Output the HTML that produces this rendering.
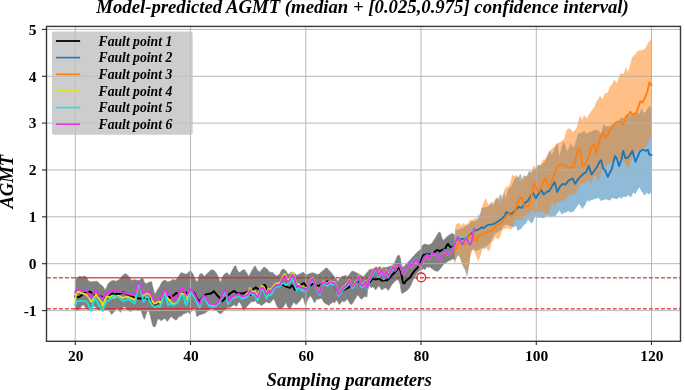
<!DOCTYPE html>
<html><head><meta charset="utf-8"><title>AGMT</title>
<style>html,body{margin:0;padding:0;background:#fff;width:685px;height:390px;overflow:hidden}svg{display:block;will-change:transform}</style>
</head><body>
<svg width="685" height="390" viewBox="0 0 685 390">
<defs><clipPath id="ax"><rect x="46.5" y="26.4" width="634.0" height="314.9"/></clipPath></defs>
<g clip-path="url(#ax)">
<polygon points="75.3,279.8 77.5,278.4 79.6,276.0 81.7,277.0 84.5,276.0 86.5,277.0 88.6,281.2 91.4,281.9 94.2,281.6 97.0,281.2 99.7,284.0 102.5,286.0 105.3,290.2 108.0,284.0 110.8,281.2 113.6,280.5 116.3,281.2 119.1,279.8 121.9,276.3 125.3,273.5 127.4,275.0 130.2,277.7 131.1,280.5 134.2,279.7 136.5,280.2 138.0,280.6 139.7,280.2 141.5,278.5 142.4,278.0 143.2,279.3 144.5,282.4 145.8,283.7 147.2,283.3 148.5,282.4 150.2,282.0 151.5,281.5 152.4,285.4 153.7,290.7 154.6,294.2 155.4,293.7 156.7,291.5 158.0,288.9 159.8,286.3 161.5,282.8 162.8,281.1 164.2,280.6 165.9,280.6 167.6,282.0 169.4,281.5 171.1,281.1 172.6,279.2 174.9,280.5 177.2,278.2 179.5,275.0 181.1,272.5 183.4,273.5 185.7,274.3 187.3,273.5 190.4,270.5 192.7,273.5 195.0,278.9 197.3,282.8 199.6,274.3 201.9,273.5 204.2,276.6 206.5,274.3 209.6,271.2 211.9,269.7 214.2,270.5 216.5,273.5 218.8,278.2 220.4,282.8 222.7,276.6 225.0,273.5 227.3,272.8 229.6,275.8 231.9,271.2 234.2,266.6 235.8,265.8 237.3,270.5 239.6,272.8 241.9,270.5 244.3,269.6 246.6,272.7 248.9,276.5 251.2,271.9 253.5,268.1 255.1,265.8 257.4,270.4 259.7,271.9 262.0,269.6 264.0,266.9 265.7,268.0 267.5,269.5 269.2,271.7 271.0,272.5 272.7,272.5 274.5,274.3 276.2,276.0 277.5,275.6 278.8,274.7 280.1,273.4 281.4,270.4 282.7,269.1 284.5,269.5 285.8,270.8 287.1,273.0 288.8,274.3 290.2,273.0 291.9,272.1 293.6,272.5 295.0,273.8 296.7,275.2 298.4,274.7 300.2,273.8 302.4,272.5 303.5,272.2 305.2,274.5 307.8,274.5 310.5,273.2 313.1,272.8 315.3,273.7 317.4,274.5 319.2,274.1 321.4,271.9 323.5,270.2 325.3,268.4 327.0,268.0 328.3,269.7 330.1,271.5 331.8,273.2 333.6,275.8 335.3,278.0 336.6,278.9 337.7,282.4 339.2,279.3 340.8,277.2 342.3,276.2 343.8,276.2 345.4,275.2 346.9,276.7 348.5,275.7 350.0,273.6 351.5,271.6 353.1,271.1 354.6,272.1 356.2,272.6 357.7,273.6 359.2,274.2 360.8,275.2 362.3,276.2 363.8,276.7 365.4,274.2 366.9,272.6 368.5,271.0 369.5,269.4 371.1,269.4 372.6,268.8 374.2,268.3 375.7,267.8 377.2,268.3 378.8,267.3 379.8,266.3 380.8,267.8 382.4,268.3 383.9,267.3 385.4,267.8 387.0,267.3 388.5,266.8 390.1,266.3 391.6,265.8 393.1,264.7 394.7,262.7 396.2,259.1 397.2,256.5 398.3,255.0 399.3,255.5 400.3,258.1 401.3,264.2 402.4,267.3 403.9,266.8 405.0,265.6 406.5,263.6 408.1,262.1 409.6,260.5 411.2,259.0 412.7,256.9 414.2,255.4 415.8,253.8 417.3,252.3 418.8,250.8 420.4,249.7 421.4,248.2 422.4,245.6 423.5,244.6 425.0,244.1 426.5,244.6 428.1,245.1 429.6,244.6 431.2,244.1 433.3,241.2 435.5,237.7 437.6,234.2 439.0,232.0 440.4,232.8 441.8,237.7 443.2,240.5 445.3,238.4 447.4,236.3 449.6,234.9 451.7,233.5 453.8,234.2 454.5,234.9 454.5,259.5 452.4,258.8 450.3,260.3 448.1,261.0 446.5,262.4 445.0,263.0 443.5,264.5 441.9,266.5 440.4,268.5 438.8,270.5 437.3,271.2 435.8,271.0 434.2,270.2 432.7,269.0 431.2,268.0 429.6,266.7 428.1,267.7 427.0,266.2 426.0,267.7 425.0,269.7 423.5,268.7 422.4,269.2 421.4,269.7 419.4,270.8 417.3,272.8 415.3,275.9 413.0,280.0 410.5,286.0 408.5,289.0 407.0,290.4 405.5,291.4 403.9,292.4 402.4,293.5 401.3,291.9 400.3,284.7 398.8,280.6 397.2,279.6 395.7,280.6 394.2,282.2 392.6,283.7 391.1,285.8 389.5,288.8 388.0,290.4 386.5,288.3 384.9,287.8 383.4,288.8 381.8,289.9 380.3,287.8 378.8,285.8 377.2,287.8 375.7,289.9 374.2,287.8 372.6,286.8 371.1,287.8 369.5,285.8 368.0,284.7 366.9,297.2 365.4,296.2 363.8,296.7 362.3,298.8 360.8,298.8 359.2,296.7 357.7,294.7 356.2,297.2 354.6,299.8 353.1,302.4 351.5,304.4 350.0,303.4 348.5,300.8 346.9,298.8 345.4,301.0 343.8,301.8 342.3,300.8 340.8,302.9 339.2,304.4 337.7,301.8 336.2,299.8 334.6,302.9 333.1,301.8 332.0,302.7 330.5,303.8 328.9,305.4 327.4,304.6 325.8,303.8 324.3,302.7 322.8,300.4 321.6,298.1 320.1,298.5 318.5,299.2 317.0,298.8 315.8,300.8 314.7,302.7 313.5,300.8 312.0,297.7 310.8,296.2 309.7,296.5 308.2,298.5 306.6,302.3 305.7,305.8 304.7,303.1 303.5,298.5 302.4,297.3 300.8,299.6 299.3,301.5 297.8,303.1 296.2,304.6 295.1,303.8 294.0,302.0 292.8,303.5 291.7,305.8 290.5,308.1 289.4,308.5 287.8,307.3 286.7,304.6 285.5,302.3 284.4,305.0 283.2,307.3 281.7,308.1 280.2,308.5 278.6,308.1 277.1,306.5 275.9,303.5 274.8,300.8 273.6,298.8 272.5,300.0 270.9,301.9 269.4,303.1 267.8,302.7 266.3,301.5 264.8,303.1 263.2,304.2 261.7,305.4 260.2,304.6 258.6,303.5 257.1,303.5 255.5,300.0 254.0,301.9 252.5,301.2 250.9,302.3 249.4,303.8 247.8,305.4 246.3,307.3 244.8,308.8 243.6,310.0 242.8,308.5 241.7,305.8 240.5,303.5 239.4,301.9 238.2,302.7 237.1,305.4 235.9,306.5 234.4,304.6 232.8,305.4 231.3,306.5 229.8,307.7 228.2,306.9 226.3,308.5 224.4,310.0 222.5,312.3 220.5,313.8 218.6,312.7 216.3,310.4 214.5,309.5 212.9,309.0 211.4,308.4 209.8,309.2 208.3,310.3 206.8,311.8 205.2,313.0 203.7,313.4 202.2,314.2 200.6,314.5 199.1,314.9 197.9,316.1 196.8,316.5 195.6,310.3 194.5,307.6 193.3,309.2 191.8,310.7 190.6,312.2 189.5,313.8 188.3,311.8 186.8,312.6 185.2,313.4 183.7,313.8 182.2,315.3 180.6,316.5 179.1,316.1 177.5,318.8 176.2,319.9 174.9,319.6 173.4,318.5 172.2,316.9 171.1,316.5 169.5,318.5 168.4,320.0 167.2,321.5 166.1,320.0 164.9,318.1 163.4,319.2 162.2,320.0 161.1,320.8 159.9,319.6 158.4,318.8 157.2,320.0 156.5,323.1 155.3,326.5 153.8,326.9 152.6,325.4 151.5,320.8 150.3,315.4 149.2,311.5 148.0,310.8 146.8,311.5 145.7,315.4 144.5,319.2 143.8,318.5 142.2,313.8 141.1,310.4 138.0,310.0 135.0,309.6 132.8,310.0 130.5,311.5 127.4,310.0 125.5,307.5 123.9,306.2 122.0,309.6 120.5,312.3 118.2,309.5 116.6,307.3 115.0,310.8 113.5,312.3 111.7,314.6 110.0,312.0 108.5,310.0 106.3,309.5 104.0,309.8 102.0,310.0 100.0,309.5 98.0,309.5 96.5,308.5 94.5,306.0 92.5,306.8 90.5,308.5 89.0,309.5 87.0,309.0 85.5,307.5 83.5,304.8 82.0,305.2 80.5,308.0 78.0,310.0 75.3,310.0" fill="#808080" stroke="#808080" stroke-width="0.6" stroke-linejoin="round"/>
<polygon points="455.2,230.0 458.0,229.4 462.0,228.0 466.0,226.0 470.0,223.3 471.7,220.4 473.5,221.5 475.8,221.0 477.5,219.2 478.7,213.5 479.8,216.0 481.5,208.3 483.3,207.7 485.0,207.1 486.7,207.1 488.5,206.5 490.2,204.2 492.2,201.3 493.1,206.5 494.8,201.9 496.5,198.5 498.3,199.6 499.4,196.0 500.2,193.8 501.5,196.0 502.2,200.8 502.9,196.2 504.6,192.7 505.8,199.0 507.5,190.4 509.2,188.1 511.0,186.9 512.4,184.0 513.6,181.5 514.5,179.3 516.1,178.1 517.3,176.5 518.6,177.5 519.5,175.0 520.2,173.6 521.2,176.0 522.3,180.0 524.3,176.0 525.9,176.5 527.2,175.2 528.4,172.5 529.2,170.3 530.2,172.0 531.3,173.0 532.7,171.5 533.8,169.5 535.0,168.7 536.3,168.7 537.3,166.0 538.3,164.6 539.5,165.0 540.7,166.0 542.0,164.0 544.0,162.5 544.5,161.6 545.9,159.0 547.8,155.0 549.8,150.0 551.7,155.2 553.6,151.3 555.5,146.2 557.5,143.0 559.4,156.5 561.3,148.8 563.2,141.1 565.2,144.9 567.1,151.3 569.0,147.5 570.9,143.0 572.8,147.5 574.8,144.9 576.7,138.5 578.0,133.7 580.1,133.0 582.2,132.2 584.3,130.8 586.5,133.7 588.6,132.5 590.7,131.8 592.8,130.8 594.9,130.1 597.0,129.5 599.2,131.5 601.3,133.7 602.7,125.9 604.1,124.5 606.2,126.6 608.3,125.9 610.4,126.6 612.6,123.8 614.7,123.1 616.8,123.1 618.3,122.3 620.5,118.1 622.6,117.4 624.7,119.5 626.8,115.3 628.2,116.0 630.3,116.0 631.7,114.6 633.8,112.4 636.0,114.6 637.4,111.7 639.5,113.9 641.6,108.2 643.7,113.1 645.8,111.7 647.2,108.9 649.4,106.1 651.5,108.0 651.5,193.0 650.7,193.0 648.8,194.5 646.9,192.6 644.6,195.4 641.7,191.6 639.3,187.3 637.4,190.2 635.5,194.0 633.2,192.6 630.8,197.8 628.4,194.9 626.1,197.3 623.7,196.6 621.3,198.7 619.4,197.0 617.0,199.2 614.7,198.7 612.3,197.8 609.9,200.6 608.0,199.9 605.7,199.2 603.3,200.1 600.9,201.1 598.5,197.8 595.7,198.7 592.8,199.7 590.0,200.6 589.4,201.8 587.3,200.3 585.3,204.9 582.2,209.0 579.1,203.8 576.0,208.0 573.5,211.5 570.9,212.6 568.3,211.0 565.8,212.6 563.7,213.1 561.7,214.6 559.6,210.5 557.1,213.6 555.5,216.2 553.5,216.2 551.4,216.7 548.8,216.2 546.8,215.6 545.3,217.2 543.2,218.2 541.2,217.7 539.1,217.2 537.1,217.7 535.0,216.2 533.3,221.2 531.5,223.5 529.8,221.7 528.1,219.4 526.3,222.9 524.6,224.6 522.9,226.3 521.2,228.7 519.4,229.8 517.7,231.0 516.0,225.8 514.8,226.3 513.5,227.8 512.0,226.5 510.8,226.3 508.5,225.2 506.2,224.6 503.8,225.8 501.5,229.8 499.2,231.5 496.9,232.7 494.6,233.8 492.3,238.5 490.0,243.0 488.0,245.0 486.0,246.5 484.3,249.5 483.0,247.5 481.4,248.0 479.6,249.5 477.8,250.5 476.0,251.0 474.2,250.0 472.4,249.0 470.6,252.0 468.8,268.0 467.0,277.8 465.2,270.0 463.5,267.5 461.7,263.0 459.9,257.5 458.1,255.0 456.3,258.5 454.5,263.4" fill="#1f77b4" fill-opacity="0.5" stroke="none"/>
<polygon points="455.2,228.3 456.3,224.2 458.3,222.7 460.4,224.2 461.9,225.2 463.5,222.7 465.5,225.3 467.0,223.7 468.6,222.7 470.0,219.8 471.7,220.5 473.5,219.2 475.8,217.5 477.5,219.0 478.7,219.8 479.8,216.0 481.5,208.8 483.3,203.1 485.0,199.0 486.2,198.5 487.3,202.5 488.5,204.8 489.6,204.2 490.8,203.1 492.2,205.0 493.1,203.0 494.2,200.2 496.0,197.9 497.7,197.0 498.8,200.0 500.2,202.5 501.5,201.0 502.6,195.0 504.0,190.5 505.5,187.5 506.3,186.3 508.1,186.9 509.8,183.8 511.5,178.0 512.0,174.8 513.2,175.2 514.5,176.0 515.7,175.6 516.9,175.2 518.2,176.9 519.3,180.0 520.2,182.6 521.3,181.0 522.3,178.0 523.4,176.0 524.3,175.2 525.5,175.6 526.8,176.9 528.4,174.4 529.6,172.0 530.9,171.5 532.1,169.5 533.3,166.2 534.6,165.8 535.8,168.7 537.0,167.0 538.3,165.0 539.5,165.8 540.7,164.6 542.0,161.3 543.2,159.6 544.2,159.0 544.5,160.5 546.6,156.5 549.1,152.0 551.7,148.8 554.3,146.8 556.8,143.6 559.4,142.4 561.9,140.4 563.9,139.8 565.2,134.7 566.4,130.8 568.4,128.3 570.9,128.9 572.8,132.1 574.8,130.2 576.7,127.6 578.0,122.4 579.4,116.7 580.8,116.4 582.2,120.3 583.6,116.0 585.1,115.7 586.5,118.8 588.6,115.3 590.7,111.8 592.8,109.0 594.9,106.2 596.3,101.2 598.5,99.1 599.9,95.6 601.3,97.7 602.7,99.1 604.1,94.9 605.5,92.8 606.9,93.5 608.3,91.3 609.7,87.1 611.4,85.0 614.5,79.2 616.5,83.3 618.6,78.2 620.6,73.1 623.7,74.1 625.8,66.9 627.8,72.0 629.9,65.9 631.9,57.7 635.0,54.6 638.1,50.5 641.2,50.5 644.2,49.5 646.3,46.4 648.3,42.3 650.0,40.3 651.5,39.8 651.5,135.4 649.5,138.5 647.8,144.6 645.8,146.7 643.7,147.7 640.6,149.7 637.6,150.8 634.5,153.8 631.4,160.0 628.3,168.2 624.5,162.8 620.6,157.7 616.8,160.2 613.0,161.5 609.1,164.1 605.3,166.7 602.0,171.0 600.5,175.0 598.5,181.9 596.0,175.5 593.5,176.5 591.4,183.5 589.6,180.0 586.9,182.0 584.2,182.9 581.5,183.8 578.8,185.6 577.6,190.0 576.0,192.6 574.0,195.1 571.9,194.1 569.9,194.6 567.8,197.2 565.8,199.2 563.7,201.3 561.7,200.3 559.6,202.0 557.6,201.8 556.0,203.3 554.5,206.9 553.0,202.3 551.4,205.4 549.9,210.5 548.3,214.6 546.3,214.6 544.2,213.1 542.2,211.5 540.1,212.0 538.6,211.0 537.1,212.6 535.0,213.6 533.8,210.5 531.5,212.0 529.2,213.1 526.9,214.8 524.6,217.1 522.3,218.8 520.0,220.0 517.7,218.8 515.4,220.0 513.0,225.0 511.9,229.2 509.6,228.7 507.3,228.1 505.0,228.7 502.7,229.8 501.5,232.7 500.4,236.2 498.7,239.6 496.9,238.5 495.2,236.7 493.5,240.8 491.7,241.9 490.0,250.0 488.6,251.0 486.8,249.1 485.0,245.5 483.2,246.4 481.4,252.7 479.6,258.0 477.8,261.6 476.0,255.4 474.2,251.0 472.4,250.0 470.6,256.3 468.8,267.0 467.0,274.2 465.2,268.8 463.5,267.0 461.7,262.5 459.9,257.0 458.1,254.5 456.3,258.0 454.5,263.4" fill="#ff7f0e" fill-opacity="0.5" stroke="none"/>
<line x1="75.3" y1="26.4" x2="75.3" y2="341.3" stroke="#b0b0b0" stroke-width="0.9"/>
<line x1="190.5" y1="26.4" x2="190.5" y2="341.3" stroke="#b0b0b0" stroke-width="0.9"/>
<line x1="305.8" y1="26.4" x2="305.8" y2="341.3" stroke="#b0b0b0" stroke-width="0.9"/>
<line x1="421.0" y1="26.4" x2="421.0" y2="341.3" stroke="#b0b0b0" stroke-width="0.9"/>
<line x1="536.3" y1="26.4" x2="536.3" y2="341.3" stroke="#b0b0b0" stroke-width="0.9"/>
<line x1="651.5" y1="26.4" x2="651.5" y2="341.3" stroke="#b0b0b0" stroke-width="0.9"/>
<line x1="46.5" y1="29.4" x2="680.5" y2="29.4" stroke="#b0b0b0" stroke-width="0.9"/>
<line x1="46.5" y1="76.3" x2="680.5" y2="76.3" stroke="#b0b0b0" stroke-width="0.9"/>
<line x1="46.5" y1="123.1" x2="680.5" y2="123.1" stroke="#b0b0b0" stroke-width="0.9"/>
<line x1="46.5" y1="170.0" x2="680.5" y2="170.0" stroke="#b0b0b0" stroke-width="0.9"/>
<line x1="46.5" y1="216.8" x2="680.5" y2="216.8" stroke="#b0b0b0" stroke-width="0.9"/>
<line x1="46.5" y1="263.7" x2="680.5" y2="263.7" stroke="#b0b0b0" stroke-width="0.9"/>
<line x1="46.5" y1="310.6" x2="680.5" y2="310.6" stroke="#b0b0b0" stroke-width="0.9"/>
<path d="M46.90 277.7H50.90M52.92 277.7H56.92M58.94 277.7H62.94M64.96 277.7H68.96M70.98 277.7H74.98M311.78 277.7H315.78M317.80 277.7H321.80M323.82 277.7H327.82M329.84 277.7H333.84M335.86 277.7H339.86M341.88 277.7H345.88M347.90 277.7H351.90M353.92 277.7H357.92M359.94 277.7H363.94M365.96 277.7H369.96M371.98 277.7H375.98M378.00 277.7H382.00M384.02 277.7H388.02M390.04 277.7H394.04M396.06 277.7H400.06M402.08 277.7H406.08M408.10 277.7H412.10M414.12 277.7H418.12M420.14 277.7H424.14M426.16 277.7H430.16M432.18 277.7H436.18M438.20 277.7H442.20M444.22 277.7H448.22M450.24 277.7H454.24M456.26 277.7H460.26M462.28 277.7H466.28M468.30 277.7H472.30M474.32 277.7H478.32M480.34 277.7H484.34M486.36 277.7H490.36M492.38 277.7H496.38M498.40 277.7H502.40M504.42 277.7H508.42M510.44 277.7H514.44M516.46 277.7H520.46M522.48 277.7H526.48M528.50 277.7H532.50M534.52 277.7H538.52M540.54 277.7H544.54M546.56 277.7H550.56M552.58 277.7H556.58M558.60 277.7H562.60M564.62 277.7H568.62M570.64 277.7H574.64M576.66 277.7H580.66M582.68 277.7H586.68M588.70 277.7H592.70M594.72 277.7H598.72M600.74 277.7H604.74M606.76 277.7H610.76M612.78 277.7H616.78M618.80 277.7H622.80M624.82 277.7H628.82M630.84 277.7H634.84M636.86 277.7H640.86M642.88 277.7H646.88M648.90 277.7H652.90M654.92 277.7H658.92M660.94 277.7H664.94M666.96 277.7H670.96M672.98 277.7H676.98M679.00 277.7H680.50M75.3 277.7H310" stroke="#d62728" stroke-width="1.4" stroke-opacity="0.78" fill="none"/>
<path d="M46.90 308.8H50.90M52.92 308.8H56.92M58.94 308.8H62.94M64.96 308.8H68.96M70.98 308.8H74.98M311.78 308.8H315.78M317.80 308.8H321.80M323.82 308.8H327.82M329.84 308.8H333.84M335.86 308.8H339.86M341.88 308.8H345.88M347.90 308.8H351.90M353.92 308.8H357.92M359.94 308.8H363.94M365.96 308.8H369.96M371.98 308.8H375.98M378.00 308.8H382.00M384.02 308.8H388.02M390.04 308.8H394.04M396.06 308.8H400.06M402.08 308.8H406.08M408.10 308.8H412.10M414.12 308.8H418.12M420.14 308.8H424.14M426.16 308.8H430.16M432.18 308.8H436.18M438.20 308.8H442.20M444.22 308.8H448.22M450.24 308.8H454.24M456.26 308.8H460.26M462.28 308.8H466.28M468.30 308.8H472.30M474.32 308.8H478.32M480.34 308.8H484.34M486.36 308.8H490.36M492.38 308.8H496.38M498.40 308.8H502.40M504.42 308.8H508.42M510.44 308.8H514.44M516.46 308.8H520.46M522.48 308.8H526.48M528.50 308.8H532.50M534.52 308.8H538.52M540.54 308.8H544.54M546.56 308.8H550.56M552.58 308.8H556.58M558.60 308.8H562.60M564.62 308.8H568.62M570.64 308.8H574.64M576.66 308.8H580.66M582.68 308.8H586.68M588.70 308.8H592.70M594.72 308.8H598.72M600.74 308.8H604.74M606.76 308.8H610.76M612.78 308.8H616.78M618.80 308.8H622.80M624.82 308.8H628.82M630.84 308.8H634.84M636.86 308.8H640.86M642.88 308.8H646.88M648.90 308.8H652.90M654.92 308.8H658.92M660.94 308.8H664.94M666.96 308.8H670.96M672.98 308.8H676.98M679.00 308.8H680.50M75.3 308.8H310" stroke="#d62728" stroke-width="1.4" stroke-opacity="0.78" fill="none"/>
<polyline points="75.3,296.5 76.3,296.7 78.6,297.1 80.9,295.9 83.2,294.0 85.5,292.5 87.8,292.8 89.4,291.7 90.9,292.1 92.5,293.6 94.0,294.8 95.5,295.5 97.5,295.6 99.0,295.8 100.2,296.3 101.7,296.7 103.2,297.5 104.8,297.8 106.3,296.7 107.8,297.3 109.4,296.3 110.9,294.8 112.5,293.2 114.3,294.5 116.6,293.8 118.9,294.2 121.2,293.4 123.5,292.2 125.5,293.8 127.4,294.5 129.7,295.3 132.0,296.5 134.3,297.2 135.8,297.6 138.2,298.4 140.5,298.4 142.8,298.8 145.1,298.4 147.4,298.8 149.7,299.2 151.2,299.0 152.2,301.0 153.8,305.0 155.8,304.2 157.7,303.1 160.0,301.2 161.8,298.5 163.5,296.2 165.0,293.8 166.9,294.6 168.8,296.5 170.4,297.7 171.9,296.5 173.1,295.8 174.6,294.6 176.5,292.7 178.1,294.6 179.2,296.5 180.6,295.5 182.3,293.8 184.6,292.3 186.2,292.7 187.7,293.8 191.0,292.0 194.1,292.8 196.7,298.1 199.3,301.5 202.0,298.1 204.6,295.0 207.2,294.1 209.4,293.7 211.5,293.3 213.7,291.1 215.9,293.7 218.1,296.3 220.3,298.5 222.4,301.1 224.6,298.9 226.4,296.3 228.0,295.5 229.9,293.5 232.1,292.2 234.3,290.9 236.5,292.7 238.6,293.1 240.8,293.5 243.0,293.5 245.2,292.7 247.4,291.8 249.5,292.2 250.8,294.8 252.2,290.9 253.9,288.7 255.6,287.4 257.4,288.7 259.1,289.2 260.9,287.0 262.6,285.7 264.4,284.8 265.7,286.1 267.0,290.8 268.8,289.5 271.0,290.0 273.2,288.7 274.9,286.9 277.1,286.5 279.3,286.1 281.4,284.7 283.6,285.2 285.8,286.5 288.0,287.4 290.2,287.8 291.9,285.2 293.6,287.4 295.0,290.0 296.3,287.8 298.0,287.4 299.7,286.1 301.5,284.3 304.0,283.0 305.8,285.8 307.4,286.5 308.9,285.8 310.5,285.4 312.0,284.2 313.5,283.8 315.1,284.6 316.6,285.4 318.2,285.8 319.7,285.4 321.2,284.2 322.8,283.1 324.3,282.3 325.8,281.9 327.4,281.5 328.9,281.5 330.0,283.4 332.0,282.9 334.1,284.4 336.2,288.7 338.2,292.8 340.3,292.0 342.3,290.7 345.4,289.2 348.5,287.6 350.5,286.1 352.6,285.1 354.6,284.1 356.7,282.5 358.7,281.0 360.8,284.6 362.8,285.6 364.9,284.1 366.9,282.0 368.0,282.7 369.5,282.2 371.1,280.6 372.6,279.1 374.2,279.1 375.7,279.6 377.2,279.1 378.8,278.6 380.3,279.6 381.8,280.6 383.4,280.6 384.9,280.1 386.5,280.6 388.0,279.6 389.5,278.1 391.1,276.0 392.6,274.5 394.2,273.0 395.7,271.4 397.2,269.9 398.0,268.1 399.5,267.6 401.1,272.5 402.2,278.8 403.0,282.7 404.2,283.5 405.7,281.2 407.2,279.6 408.8,278.5 410.3,277.3 411.8,274.6 413.4,272.3 414.9,270.4 416.5,268.8 417.6,267.3 418.8,265.8 419.9,263.5 421.1,260.4 422.2,257.3 423.4,255.0 424.5,254.9 426.0,254.4 427.6,254.4 429.1,254.4 430.6,253.8 432.2,253.3 433.7,252.8 435.3,251.3 436.8,250.3 438.3,250.3 439.9,251.3 441.4,250.3 443.0,249.7 445.0,249.2 446.7,245.5 448.1,244.0 449.6,246.2 451.7,247.6 453.1,246.5 454.5,245.0" fill="none" stroke="#000000" stroke-width="1.95" stroke-linejoin="round" stroke-linecap="square"/>
<polyline points="456.2,240.0 458.5,239.5 460.3,239.0 463.3,239.0 466.4,238.5 469.0,236.0 471.5,233.3 473.6,231.3 475.6,230.3 477.7,229.8 479.7,228.7 481.8,227.2 483.8,228.2 485.9,226.2 487.9,225.1 490.0,224.6 492.0,224.4 495.1,223.3 498.2,221.3 501.3,219.2 504.4,216.2 506.4,212.0 509.5,214.0 512.6,213.1 515.6,210.0 518.7,206.9 521.8,208.0 524.9,202.8 527.7,200.9 530.4,196.4 533.1,192.8 535.8,198.2 538.5,193.7 541.1,190.1 543.8,194.6 546.5,191.9 549.2,191.0 551.9,186.5 554.6,182.0 557.3,191.9 560.0,186.5 562.7,183.8 565.4,184.7 568.0,181.1 570.7,179.3 572.5,178.5 575.2,183.8 577.9,179.3 580.6,176.7 583.3,174.0 586.0,172.2 588.7,165.9 591.6,174.5 594.1,171.0 596.7,167.4 599.4,162.0 601.2,160.2 603.0,168.3 605.0,170.1 607.8,176.9 611.7,169.2 615.0,155.9 617.0,159.0 619.1,166.2 621.2,160.0 623.2,150.8 625.3,158.0 627.3,158.0 629.4,155.9 632.4,150.8 635.5,162.0 637.6,156.9 639.6,151.8 642.7,149.7 645.8,150.8 647.8,149.7 649.5,154.9 651.5,154.9" fill="none" stroke="#1f77b4" stroke-width="1.85" stroke-linejoin="round" stroke-linecap="square"/>
<polyline points="455.1,250.8 456.7,247.2 458.2,243.6 459.7,242.0 461.3,241.5 462.8,243.6 464.4,245.1 465.9,243.6 467.4,242.0 469.0,236.4 470.5,235.4 472.1,235.9 473.6,236.4 475.1,240.5 476.5,241.0 477.7,236.4 479.7,235.4 481.8,234.4 483.8,233.3 485.9,232.8 487.9,231.8 490.0,231.5 493.1,229.5 496.2,225.4 499.2,224.4 502.3,222.3 505.4,217.2 508.5,214.1 511.5,216.2 514.6,213.1 516.7,205.9 519.7,198.7 521.8,197.7 523.8,204.9 525.0,205.4 527.7,207.2 529.5,203.6 531.3,197.3 534.0,182.9 535.8,187.4 538.5,191.9 541.1,188.3 543.8,181.1 545.6,178.5 548.3,185.6 551.0,184.7 553.7,175.8 556.4,169.5 558.2,165.0 560.9,164.7 563.6,165.6 566.3,165.6 568.0,168.3 570.7,167.4 573.4,167.4 575.2,160.2 577.9,148.6 579.7,149.5 581.5,158.4 582.4,165.6 585.1,164.7 587.8,158.4 589.6,154.8 591.4,146.8 594.1,144.1 596.4,153.0 598.5,144.1 601.2,135.1 603.0,132.4 605.0,136.9 607.8,135.0 610.6,128.7 613.4,125.8 616.2,122.3 618.3,121.6 620.5,123.0 623.3,124.4 625.4,117.4 626.8,115.3 628.9,114.6 630.3,111.7 632.4,114.6 635.3,113.9 637.4,110.3 640.2,101.2 642.3,102.6 645.1,97.6 647.2,92.0 648.7,85.6 649.6,82.1 651.5,85.5" fill="none" stroke="#ff7f0e" stroke-width="1.85" stroke-linejoin="round" stroke-linecap="square"/>
<polyline points="75.3,300.5 75.5,298.0 76.3,294.0 77.8,291.7 79.4,292.0 81.7,293.2 84.0,294.0 86.3,294.4 88.2,296.7 89.8,299.4 91.3,301.7 92.8,300.2 94.4,297.1 95.9,294.4 97.5,296.7 98.6,298.5 100.2,300.5 101.7,302.8 102.8,306.3 104.0,302.5 105.2,299.0 106.3,296.7 107.8,296.7 109.4,297.5 110.9,296.3 112.5,295.5 113.5,298.0 115.8,296.8 118.2,295.7 120.5,296.5 122.8,298.0 125.1,297.2 127.4,296.8 129.7,297.6 132.0,298.4 134.3,299.9 135.5,298.4 136.6,291.8 138.2,284.9 139.3,284.2 140.5,287.2 142.0,293.4 143.5,295.7 145.1,294.2 146.6,293.0 148.2,293.4 149.7,294.5 151.2,296.5 151.8,299.5 153.1,302.3 154.6,303.8 156.2,303.1 157.7,302.3 159.2,301.2 160.4,303.1 161.6,300.0 163.1,296.2 164.6,292.7 165.8,293.8 166.9,296.9 168.5,299.6 170.0,300.4 171.5,303.1 173.1,303.8 174.6,303.5 176.2,303.1 177.7,301.9 179.2,298.1 180.8,294.2 182.3,293.5 183.8,293.8 185.4,295.0 186.9,296.5 188.5,295.4 186.9,299.3 188.5,295.8 190.6,290.4 193.2,293.9 195.8,298.9 198.0,303.2 199.8,305.9 201.5,300.2 203.7,296.0 205.4,297.8 207.2,301.8 209.4,304.8 211.5,305.7 213.7,305.5 215.9,305.0 217.6,303.3 219.4,301.5 221.1,299.0 222.9,294.1 224.6,291.3 226.4,294.6 228.0,301.5 229.1,302.2 230.8,299.6 232.5,297.6 234.7,296.6 236.9,296.1 238.6,294.4 240.4,296.6 242.1,297.7 244.3,297.2 246.5,293.7 248.2,292.4 250.0,288.0 251.3,290.6 253.0,291.5 254.8,291.5 256.5,294.6 257.8,295.4 259.1,291.5 260.4,287.6 261.7,285.8 263.5,286.7 264.8,289.3 266.0,292.4 266.6,292.3 268.4,288.8 270.1,289.7 271.8,288.4 273.6,285.8 275.3,284.0 277.1,283.1 278.8,283.6 280.6,281.8 282.3,277.5 284.1,274.4 285.4,274.4 286.7,278.8 288.4,280.1 290.2,277.9 291.5,274.0 292.8,273.1 294.1,275.7 295.4,280.5 296.7,284.9 298.4,284.0 300.2,285.7 302.4,287.0 303.6,286.9 305.9,289.2 308.2,285.4 310.5,280.7 312.8,277.7 314.4,281.5 315.9,286.1 318.2,290.0 319.8,292.3 321.3,285.4 322.8,281.5 325.2,282.3 327.5,283.8 329.0,281.5 330.0,281.6 331.5,281.6 333.1,282.1 334.6,282.6 336.2,285.7 337.7,291.8 338.7,293.4 340.3,291.3 341.8,288.7 343.3,287.2 344.9,285.7 346.4,284.6 347.4,283.1 348.5,281.6 349.5,280.0 350.5,282.6 351.5,285.1 353.1,285.7 354.6,283.6 356.2,281.0 357.7,277.5 358.7,275.4 359.7,278.5 360.8,284.1 362.3,285.1 363.8,283.1 365.4,281.0 366.4,284.6 367.4,287.2 368.5,280.5 369.5,277.8 370.1,277.8 371.6,274.7 373.1,271.1 374.7,268.6 376.2,267.0 377.7,271.6 378.8,274.7 380.3,271.1 381.3,268.6 382.9,273.2 383.9,276.8 384.9,273.7 386.0,270.1 387.5,272.7 388.5,275.2 390.1,271.6 391.6,268.6 393.1,266.0 394.2,267.0 395.2,270.7 396.7,267.6 398.0,264.9 399.5,265.3 401.1,268.8 402.6,273.8 404.2,272.6 405.7,270.3 407.2,268.0 408.4,264.9 409.5,263.0 410.7,265.3 411.8,267.2 413.0,264.5 414.2,262.2 415.3,259.9 416.5,258.4 417.6,261.5 418.8,264.9 419.9,266.1 421.1,265.3 422.2,263.0 423.4,259.9 424.5,257.6 425.7,256.8 427.6,255.7 429.1,259.3 430.6,255.7 432.2,253.1 433.7,255.2 435.3,254.7 436.8,255.7 438.3,258.2 439.9,260.3 441.4,254.7 443.0,252.6 444.5,250.6 446.0,252.3 447.4,254.9 448.8,254.2 450.0,254.1 452.0,250.0 454.1,247.0 455.6,242.3 457.7,237.2 459.2,239.8 460.8,242.9 462.3,245.4 463.8,242.3 465.4,239.8 466.4,238.3 468.0,241.8 470.0,245.4 471.5,242.9 472.6,237.3 473.6,230.6 474.1,229.0" fill="none" stroke="#e6e21a" stroke-width="1.85" stroke-linejoin="round" stroke-linecap="square"/>
<polyline points="75.3,305.0 75.8,304.0 77.1,301.7 79.4,300.9 81.7,300.9 84.0,300.9 85.9,301.3 87.5,302.8 89.0,306.3 90.2,309.4 91.3,310.9 92.5,306.3 93.6,301.7 94.8,298.2 95.9,299.4 97.5,302.8 99.0,305.5 100.5,307.1 101.7,309.4 102.8,310.9 104.0,307.1 105.2,304.0 106.3,301.7 107.8,300.5 109.4,300.2 110.9,298.6 112.5,297.1 114.3,295.3 116.6,296.5 118.9,297.6 121.2,299.5 123.5,301.5 125.8,300.3 128.2,299.2 130.5,300.3 132.8,302.2 134.7,303.4 135.8,299.5 137.0,290.3 138.2,283.8 139.3,282.6 140.5,286.5 141.6,293.4 142.8,299.5 143.9,301.8 145.1,299.5 146.6,296.1 148.2,298.0 149.7,301.1 150.8,303.4 152.0,304.9 152.3,304.6 153.8,306.5 155.4,307.3 156.9,306.5 158.5,306.2 160.0,307.3 161.5,303.1 163.1,296.9 164.6,293.8 165.8,296.2 166.9,300.8 168.1,305.4 169.2,304.6 170.4,303.1 171.9,304.6 173.1,305.0 174.6,304.6 176.2,303.8 177.7,302.3 179.2,299.6 180.8,295.8 182.3,295.0 183.8,296.5 185.0,302.3 186.2,305.0 187.3,302.3 188.5,299.2 190.6,291.5 193.2,295.4 195.8,300.7 198.0,305.0 199.8,307.6 201.5,301.5 203.7,296.7 205.4,298.9 207.2,303.3 209.4,306.3 211.5,306.8 213.7,306.8 215.9,305.9 217.6,304.2 219.4,302.4 221.1,299.8 222.9,295.0 224.6,292.4 226.4,296.3 228.0,304.2 229.1,303.1 230.8,300.5 232.5,298.5 234.7,297.5 236.9,297.0 238.6,295.3 240.4,297.5 242.1,298.8 244.3,298.2 246.5,297.3 248.2,296.0 250.0,291.8 251.3,294.0 253.0,295.0 254.8,295.3 256.5,298.8 257.8,300.5 259.1,296.0 260.4,291.5 261.7,289.6 263.5,290.5 264.8,293.0 266.0,296.5 266.6,298.7 268.4,294.8 270.1,295.2 271.8,293.9 273.6,289.5 275.3,287.4 277.1,286.9 278.8,286.9 280.6,285.6 282.3,283.4 284.1,283.4 285.8,285.2 287.5,284.3 289.3,283.0 291.0,280.4 292.3,278.6 293.6,282.1 295.4,286.9 296.7,290.4 298.4,287.4 300.6,289.5 302.8,291.3 303.6,289.3 305.9,291.6 308.2,287.8 310.5,283.1 312.8,280.1 314.4,283.9 315.9,288.5 318.2,292.4 319.8,294.7 321.3,287.8 322.8,283.9 325.2,284.7 327.5,286.2 329.0,283.9 330.0,284.0 331.5,284.0 333.1,284.5 334.6,285.0 336.2,288.1 337.7,294.2 338.7,295.8 340.3,293.7 341.8,291.1 343.3,289.6 344.9,288.1 346.4,287.0 347.4,285.5 348.5,284.0 349.5,282.4 350.5,285.0 351.5,287.5 353.1,288.1 354.6,286.0 356.2,283.4 357.7,279.9 358.7,277.8 359.7,280.9 360.8,286.5 362.3,287.5 363.8,285.5 365.4,283.4 366.4,287.0 367.4,289.6 368.5,282.9 369.5,280.2 370.1,280.2 371.6,277.1 373.1,273.5 374.7,271.0 376.2,269.4 377.7,274.0 378.8,277.1 380.3,273.5 381.3,271.0 382.9,275.6 383.9,279.2 384.9,276.1 386.0,272.5 387.5,275.1 388.5,277.6 390.1,274.0 391.6,271.0 393.1,268.4 394.2,269.4 395.2,269.9 396.7,266.8 398.0,264.1 399.5,264.5 401.1,268.0 402.6,273.0 404.2,271.8 405.7,269.5 407.2,267.2 408.4,264.1 409.5,262.2 410.7,264.5 411.8,266.4 413.0,263.7 414.2,261.4 415.3,259.1 416.5,257.6 417.6,260.7 418.8,264.1 419.9,265.3 421.1,264.5 422.2,262.2 423.4,259.1 424.5,256.8 425.7,256.0 427.6,254.9 429.1,258.5 430.6,254.9 432.2,252.3 433.7,254.4 435.3,253.9 436.8,254.9 438.3,257.4 439.9,259.5 441.4,253.9 443.0,251.8 444.5,249.8 446.0,251.1 447.4,253.7 448.8,253.0 450.0,252.9 452.0,248.8 454.1,245.8 455.6,241.1 457.7,236.0 459.2,238.6 460.8,241.7 462.3,244.2 463.8,241.1 465.4,238.6 466.4,237.1 468.0,240.6 470.0,244.2 471.5,241.7 472.6,236.1 473.6,229.4 474.1,227.8" fill="none" stroke="#1ee0e0" stroke-width="1.85" stroke-linejoin="round" stroke-linecap="square"/>
<polyline points="75.3,292.5 75.5,290.9 77.1,289.8 80.2,290.2 83.2,290.5 86.3,290.9 87.8,292.5 89.4,296.7 90.9,297.5 92.5,294.8 94.4,291.7 95.9,289.8 97.1,292.8 98.6,295.2 100.2,296.7 101.7,297.8 102.8,298.6 104.4,295.5 105.5,292.8 107.1,294.0 108.6,293.2 110.2,291.7 111.7,290.2 112.8,290.5 113.5,291.8 115.5,291.1 118.2,290.3 119.7,291.5 122.0,292.2 124.3,293.0 127.4,293.8 130.5,294.5 133.5,295.3 135.1,294.5 136.6,288.0 137.8,283.4 138.9,282.6 140.1,284.2 141.2,288.8 142.4,292.6 143.5,293.8 145.1,292.2 147.4,291.5 148.9,292.2 150.5,293.4 151.5,295.4 153.1,298.8 154.6,300.4 156.2,299.6 157.7,298.1 159.2,298.5 160.8,298.5 162.3,295.4 163.8,291.5 165.4,289.6 166.2,291.5 167.3,295.4 168.8,295.0 170.0,294.6 171.5,296.5 173.1,298.5 174.6,299.6 176.2,298.5 177.7,295.8 179.2,291.9 180.8,288.8 182.3,288.5 183.8,290.0 185.4,294.2 186.9,295.4 188.5,292.3 190.6,289.3 193.2,292.4 195.8,297.2 198.0,301.5 199.8,304.2 201.5,298.9 203.7,295.4 205.4,296.7 207.2,300.2 209.4,303.3 211.5,304.6 213.7,304.2 215.9,304.2 217.6,302.4 219.4,300.7 221.1,298.1 222.9,293.3 224.6,290.2 226.4,292.8 228.0,298.9 229.1,301.4 230.8,298.8 232.5,296.6 234.7,295.7 236.9,295.3 238.6,293.5 240.4,295.7 242.1,296.6 244.3,296.2 246.5,295.3 248.2,294.0 250.0,289.6 251.3,292.2 253.0,293.1 254.8,293.1 256.5,296.2 257.8,297.0 259.1,293.1 260.4,289.2 261.7,287.4 263.5,288.3 264.8,290.9 266.0,294.0 266.6,293.9 268.4,290.4 270.1,291.3 271.8,290.0 273.6,287.4 275.3,285.6 277.1,284.7 278.8,285.2 280.6,283.4 282.3,279.1 284.1,276.0 285.4,276.0 286.7,280.4 288.4,281.7 290.2,279.5 291.5,275.6 292.8,274.7 294.1,277.3 295.4,282.1 296.7,286.5 298.4,285.6 300.2,286.5 302.4,287.8 303.6,287.7 305.9,290.0 308.2,286.2 310.5,281.5 312.8,278.5 314.4,282.3 315.9,286.9 318.2,290.8 319.8,293.1 321.3,286.2 322.8,282.3 325.2,283.1 327.5,284.6 329.0,282.3 330.0,282.4 331.5,282.4 333.1,282.9 334.6,283.4 336.2,286.5 337.7,292.6 338.7,294.2 340.3,292.1 341.8,289.5 343.3,288.0 344.9,286.5 346.4,285.4 347.4,283.9 348.5,282.4 349.5,280.8 350.5,283.4 351.5,285.9 353.1,286.5 354.6,284.4 356.2,281.8 357.7,278.3 358.7,276.2 359.7,279.3 360.8,284.9 362.3,285.9 363.8,283.9 365.4,281.8 366.4,285.4 367.4,288.0 368.5,281.3 369.5,278.6 370.1,278.6 371.6,275.5 373.1,271.9 374.7,269.4 376.2,267.8 377.7,272.4 378.8,275.5 380.3,271.9 381.3,269.4 382.9,274.0 383.9,277.6 384.9,274.5 386.0,270.9 387.5,273.5 388.5,276.0 390.1,272.4 391.6,269.4 393.1,266.8 394.2,267.8 395.2,270.4 396.7,267.3 398.0,264.6 399.5,265.0 401.1,268.5 402.6,273.5 404.2,272.3 405.7,270.0 407.2,267.7 408.4,264.6 409.5,262.7 410.7,265.0 411.8,266.9 413.0,264.2 414.2,261.9 415.3,259.6 416.5,258.1 417.6,261.2 418.8,264.6 419.9,265.8 421.1,265.0 422.2,262.7 423.4,259.6 424.5,257.3 425.7,256.5 427.6,255.4 429.1,259.0 430.6,255.4 432.2,252.8 433.7,254.9 435.3,254.4 436.8,255.4 438.3,257.9 439.9,260.0 441.4,254.4 443.0,252.3 444.5,250.3 446.0,252.0 447.4,254.6 448.8,253.9 450.0,253.8 452.0,249.7 454.1,246.7 455.6,242.0 457.7,236.9 459.2,239.5 460.8,242.6 462.3,245.1 463.8,242.0 465.4,239.5 466.4,238.0 468.0,241.5 470.0,245.1 471.5,242.6 472.6,237.0 473.6,230.3 474.1,228.7" fill="none" stroke="#e633e6" stroke-width="1.85" stroke-linejoin="round" stroke-linecap="square"/>
<circle cx="421.2" cy="277.4" r="4.4" fill="none" stroke="#d62728" stroke-width="1.3"/>
</g>
<rect x="46.5" y="26.4" width="634.0" height="314.9" fill="none" stroke="#383838" stroke-width="1.4"/>
<line x1="75.3" y1="341.3" x2="75.3" y2="345" stroke="#2a2a2a" stroke-width="1.1"/>
<line x1="190.5" y1="341.3" x2="190.5" y2="345" stroke="#2a2a2a" stroke-width="1.1"/>
<line x1="305.8" y1="341.3" x2="305.8" y2="345" stroke="#2a2a2a" stroke-width="1.1"/>
<line x1="421.0" y1="341.3" x2="421.0" y2="345" stroke="#2a2a2a" stroke-width="1.1"/>
<line x1="536.3" y1="341.3" x2="536.3" y2="345" stroke="#2a2a2a" stroke-width="1.1"/>
<line x1="651.5" y1="341.3" x2="651.5" y2="345" stroke="#2a2a2a" stroke-width="1.1"/>
<line x1="42" y1="29.4" x2="46.5" y2="29.4" stroke="#2a2a2a" stroke-width="1.1"/>
<line x1="42" y1="76.3" x2="46.5" y2="76.3" stroke="#2a2a2a" stroke-width="1.1"/>
<line x1="42" y1="123.1" x2="46.5" y2="123.1" stroke="#2a2a2a" stroke-width="1.1"/>
<line x1="42" y1="170.0" x2="46.5" y2="170.0" stroke="#2a2a2a" stroke-width="1.1"/>
<line x1="42" y1="216.8" x2="46.5" y2="216.8" stroke="#2a2a2a" stroke-width="1.1"/>
<line x1="42" y1="263.7" x2="46.5" y2="263.7" stroke="#2a2a2a" stroke-width="1.1"/>
<line x1="42" y1="310.6" x2="46.5" y2="310.6" stroke="#2a2a2a" stroke-width="1.1"/>
<text x="75.7" y="361.0" font-family="Liberation Serif" font-weight="bold" font-size="15.5" text-anchor="middle">20</text>
<text x="190.9" y="361.0" font-family="Liberation Serif" font-weight="bold" font-size="15.5" text-anchor="middle">40</text>
<text x="306.2" y="361.0" font-family="Liberation Serif" font-weight="bold" font-size="15.5" text-anchor="middle">60</text>
<text x="421.4" y="361.0" font-family="Liberation Serif" font-weight="bold" font-size="15.5" text-anchor="middle">80</text>
<text x="536.7" y="361.0" font-family="Liberation Serif" font-weight="bold" font-size="15.5" text-anchor="middle">100</text>
<text x="651.9" y="361.0" font-family="Liberation Serif" font-weight="bold" font-size="15.5" text-anchor="middle">120</text>
<text x="36.6" y="34.6" font-family="Liberation Serif" font-weight="bold" font-size="15.5" text-anchor="end">5</text>
<text x="36.6" y="81.5" font-family="Liberation Serif" font-weight="bold" font-size="15.5" text-anchor="end">4</text>
<text x="36.6" y="128.3" font-family="Liberation Serif" font-weight="bold" font-size="15.5" text-anchor="end">3</text>
<text x="36.6" y="175.2" font-family="Liberation Serif" font-weight="bold" font-size="15.5" text-anchor="end">2</text>
<text x="36.6" y="222.0" font-family="Liberation Serif" font-weight="bold" font-size="15.5" text-anchor="end">1</text>
<text x="36.6" y="268.9" font-family="Liberation Serif" font-weight="bold" font-size="15.5" text-anchor="end">0</text>
<text x="36.6" y="315.8" font-family="Liberation Serif" font-weight="bold" font-size="15.5" text-anchor="end">-1</text>
<rect x="52" y="31.5" width="140.7" height="103.2" rx="2.5" fill="#c0c0c0" fill-opacity="0.8"/>
<line x1="55.9" y1="41.0" x2="80.1" y2="41.0" stroke="#000000" stroke-width="1.8"/>
<text x="98.5" y="45.7" font-family="Liberation Serif" font-weight="bold" font-style="italic" font-size="13.7">Fault point 1</text>
<line x1="55.9" y1="57.6" x2="80.1" y2="57.6" stroke="#1f77b4" stroke-width="1.6"/>
<text x="98.5" y="62.4" font-family="Liberation Serif" font-weight="bold" font-style="italic" font-size="13.7">Fault point 2</text>
<line x1="55.9" y1="74.3" x2="80.1" y2="74.3" stroke="#ff7f0e" stroke-width="1.6"/>
<text x="98.5" y="79.0" font-family="Liberation Serif" font-weight="bold" font-style="italic" font-size="13.7">Fault point 3</text>
<line x1="55.9" y1="90.9" x2="80.1" y2="90.9" stroke="#e6e21a" stroke-width="1.6"/>
<text x="98.5" y="95.6" font-family="Liberation Serif" font-weight="bold" font-style="italic" font-size="13.7">Fault point 4</text>
<line x1="55.9" y1="107.6" x2="80.1" y2="107.6" stroke="#1ee0e0" stroke-width="1.6"/>
<text x="98.5" y="112.3" font-family="Liberation Serif" font-weight="bold" font-style="italic" font-size="13.7">Fault point 5</text>
<line x1="55.9" y1="124.2" x2="80.1" y2="124.2" stroke="#e633e6" stroke-width="1.6"/>
<text x="98.5" y="128.9" font-family="Liberation Serif" font-weight="bold" font-style="italic" font-size="13.7">Fault point 6</text>
<text x="96.3" y="12.9" font-family="Liberation Serif" font-weight="bold" font-style="italic" font-size="18.73">Model-predicted AGMT (median + [0.025,0.975] confidence interval)</text>
<text x="266.6" y="386" font-family="Liberation Serif" font-weight="bold" font-style="italic" font-size="18.75">Sampling parameters</text>
<text transform="translate(13.2,208.6) rotate(-90)" font-family="Liberation Serif" font-weight="bold" font-style="italic" font-size="18.6">AGMT</text>
</svg>
</body></html>
